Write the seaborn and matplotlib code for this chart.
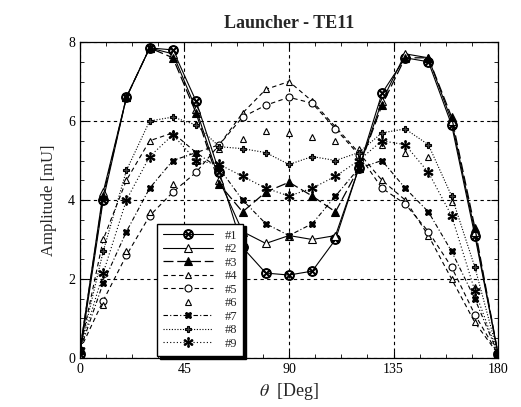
import matplotlib
matplotlib.use("Agg")
import matplotlib.pyplot as plt
import seaborn as sns
import numpy as np
from matplotlib.ticker import MultipleLocator

theta = [0, 10, 20, 30, 40, 50, 60, 70, 80, 90, 100, 110, 120, 130, 140, 150, 160, 170, 180]

s1 = [0.1, 4.0, 6.6, 7.85, 7.8, 6.5, 4.7, 2.8, 2.15, 2.1, 2.2, 3.0, 4.8, 6.7, 7.6, 7.5, 5.9, 3.1, 0.1]
s2 = [0.2, 4.2, 6.6, 7.85, 7.7, 6.3, 4.5, 3.2, 2.9, 3.1, 3.0, 3.1, 4.8, 6.5, 7.7, 7.6, 6.0, 3.2, 0.1]
s3 = [0.2, 4.1, 6.6, 7.85, 7.6, 6.2, 4.4, 3.7, 4.2, 4.45, 4.1, 3.7, 4.8, 6.4, 7.6, 7.6, 6.1, 3.3, 0.1]
s4 = [0.2, 3.0, 4.5, 5.5, 5.7, 5.2, 5.4, 6.2, 6.8, 7.0, 6.5, 5.85, 5.2, 4.5, 4.0, 3.1, 2.0, 0.9, 0.1]
s5 = [0.2, 1.45, 2.6, 3.6, 4.2, 4.7, 5.4, 6.1, 6.4, 6.6, 6.45, 5.8, 5.15, 4.3, 3.9, 3.2, 2.3, 1.1, 0.1]
s6 = [0.2, 1.35, 2.7, 3.7, 4.4, 5.0, 5.3, 5.55, 5.75, 5.7, 5.6, 5.5, 5.3, 5.4, 5.2, 5.1, 3.95, 1.8, 0.1]
s7 = [0.2, 1.9, 3.2, 4.3, 5.0, 5.2, 4.8, 4.0, 3.4, 3.1, 3.4, 4.1, 4.8, 5.0, 4.3, 3.7, 2.7, 1.5, 0.1]
s8 = [0.2, 2.7, 4.75, 6.0, 6.1, 5.9, 5.35, 5.3, 5.2, 4.9, 5.1, 5.0, 5.2, 5.7, 5.8, 5.4, 4.1, 2.3, 0.1]
s9 = [0.2, 2.15, 4.0, 5.1, 5.65, 5.0, 4.9, 4.6, 4.3, 4.1, 4.3, 4.6, 5.0, 5.5, 5.4, 4.7, 3.6, 1.7, 0.1]

labels = ["#1", "#2", "#3", "#4", "#5", "#6", "#7", "#8", "#9"]
series = [s1, s2, s3, s4, s5, s6, s7, s8, s9]

sns.set_style("ticks")
plt.rcParams['font.family'] = ['Liberation Serif', 'DejaVu Serif']
plt.rcParams['mathtext.fontset'] = 'stix'

fig = plt.figure(figsize=(5.21, 4.07), dpi=100)
ax = fig.add_axes([0.1535, 0.1204, 0.8025, 0.7764])

styles = [
    dict(marker=r'$\otimes$', markersize=7, linestyle='-', lw=0.8, mfc='k', mec='k'),
    dict(marker='^', markersize=6, linestyle='-', lw=0.8, mfc='white', mec='k'),
    dict(marker='^', markersize=6, linestyle=(0, (8, 3)), lw=0.9, mfc='k', mec='k'),
    dict(marker='^', markersize=5, linestyle=(0, (4, 3)), lw=0.8, mfc='white', mec='k'),
    dict(marker='o', markersize=5, linestyle=(0, (4, 3)), lw=0.8, mfc='white', mec='k'),
    dict(marker='^', markersize=5, linestyle='none', lw=0.8, mfc='white', mec='k'),
    dict(marker='X', markersize=5, linestyle=(0, (4, 2, 1, 2)), lw=0.8, mfc='k', mec='k'),
    dict(marker='P', markersize=5, linestyle=(0, (1, 1.5)), lw=0.8, mfc='#444444', mec='k'),
    dict(marker=r'$\ast$', markersize=7, linestyle=(0, (1, 2)), lw=0.8, mfc='k', mec='k'),
]

for lab, vals, st in zip(labels, series, styles):
    sns.lineplot(x=theta, y=vals, ax=ax, color='k', label=lab, sort=False,
                 marker=st['marker'], markersize=st['markersize'],
                 linestyle=st['linestyle'], linewidth=st['lw'],
                 markerfacecolor=st['mfc'], markeredgecolor=st['mec'],
                 markeredgewidth=0.8)

ax.set_xlim(0, 180)
ax.set_ylim(0, 8)
ax.set_xticks([0, 45, 90, 135, 180])
ax.set_yticks([0, 2, 4, 6, 8])
ax.xaxis.set_minor_locator(MultipleLocator(11.25))
ax.yaxis.set_minor_locator(MultipleLocator(0.5))
ax.tick_params(which='both', direction='in', top=True, right=True, colors='k', labelsize=10)
ax.tick_params(which='major', length=5, width=0.8)
ax.tick_params(which='minor', length=3, width=0.6)
ax.grid(True, which='major', color='k', linestyle=(0, (3, 3)), linewidth=0.8)
for sp in ax.spines.values():
    sp.set_color('k')
    sp.set_linewidth(0.9)

ax.set_title("Launcher - TE11", fontsize=13, fontweight='bold', pad=10)
ax.set_xlabel(r"$\theta$  [Deg]", fontsize=13, labelpad=4)
ax.set_ylabel("Amplitude [mU]", fontsize=12, labelpad=8)

leg = ax.legend(loc='lower left', bbox_to_anchor=(0.184, 0.006), fontsize=9,
                frameon=True, fancybox=False, edgecolor='k', framealpha=1,
                handlelength=4.0, handletextpad=0.9, labelspacing=0.12,
                borderpad=0.5, borderaxespad=0.0,
                shadow={'facecolor': 'k', 'edgecolor': 'k', 'alpha': 1})
leg.get_frame().set_linewidth(1.0)

fig.savefig("out.png", dpi=100)
